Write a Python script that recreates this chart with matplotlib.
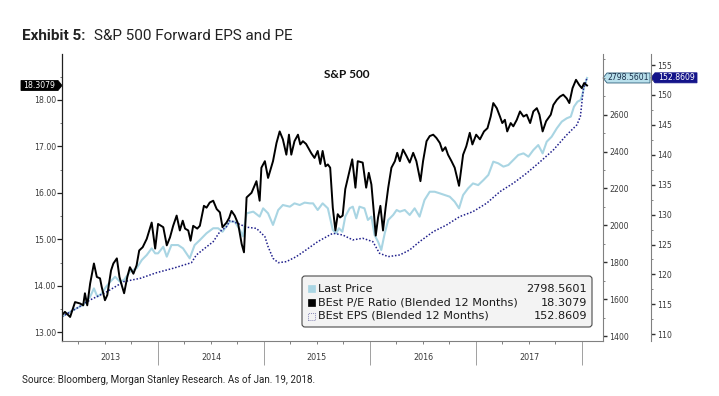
import matplotlib
matplotlib.use("Agg")
import matplotlib.pyplot as plt
import matplotlib.dates as mdates
import matplotlib.ticker as mticker
from matplotlib.patches import Polygon, FancyBboxPatch, Rectangle
from matplotlib.transforms import blended_transform_factory, IdentityTransform
import pandas as pd

# ---------------- data ----------------
pe_dates = [
    "2013-02-04", "2013-02-14", "2013-03-04", "2013-03-21", "2013-04-07", "2013-04-18", "2013-04-24",
    "2013-05-02", "2013-05-12", "2013-05-25", "2013-06-04", "2013-06-15", "2013-06-21", "2013-07-02",
    "2013-07-10", "2013-07-23", "2013-07-31", "2013-08-12", "2013-08-21", "2013-08-29", "2013-09-06",
    "2013-09-17", "2013-09-26", "2013-10-08", "2013-10-19", "2013-10-28", "2013-11-09", "2013-11-23",
    "2013-12-10", "2013-12-22", "2014-01-01", "2014-01-19", "2014-01-31", "2014-02-11", "2014-02-22",
    "2014-03-06", "2014-03-17", "2014-03-27", "2014-04-04", "2014-04-15", "2014-04-23", "2014-05-02",
    "2014-05-16", "2014-05-25", "2014-06-08", "2014-06-17", "2014-06-28", "2014-07-10", "2014-07-22",
    "2014-08-02", "2014-08-11", "2014-08-25", "2014-09-03", "2014-09-11", "2014-09-22", "2014-10-04",
    "2014-10-16", "2014-10-24", "2014-11-02", "2014-11-19", "2014-12-06", "2014-12-17", "2014-12-23",
    "2015-01-04", "2015-01-15", "2015-02-01", "2015-02-13", "2015-02-24", "2015-03-07", "2015-03-19",
    "2015-03-28", "2015-04-05", "2015-04-16", "2015-04-28", "2015-05-06", "2015-05-15", "2015-05-26",
    "2015-06-13", "2015-06-24", "2015-07-05", "2015-07-14", "2015-07-22", "2015-08-01", "2015-08-09",
    "2015-08-17", "2015-08-26", "2015-09-04", "2015-09-12", "2015-09-20", "2015-09-29", "2015-10-08",
    "2015-10-20", "2015-11-01", "2015-11-12", "2015-11-20", "2015-12-07", "2015-12-19", "2015-12-28",
    "2016-01-06", "2016-01-14", "2016-01-21", "2016-01-29", "2016-02-06", "2016-02-15", "2016-02-24",
    "2016-03-04", "2016-03-15", "2016-03-27", "2016-04-04", "2016-04-13", "2016-04-24", "2016-05-06",
    "2016-05-17", "2016-05-29", "2016-06-09", "2016-06-23", "2016-07-02", "2016-07-14", "2016-07-25",
    "2016-08-06", "2016-08-17", "2016-08-29", "2016-09-07", "2016-09-17", "2016-09-26", "2016-10-08",
    "2016-10-19", "2016-11-03", "2016-11-17", "2016-11-28", "2016-12-10", "2016-12-19", "2017-01-01",
    "2017-01-14", "2017-01-28", "2017-02-09", "2017-02-20", "2017-03-01", "2017-03-13", "2017-03-24",
    "2017-04-01", "2017-04-10", "2017-04-18", "2017-04-30", "2017-05-09", "2017-05-21", "2017-06-01",
    "2017-06-13", "2017-06-24", "2017-07-06", "2017-07-17", "2017-07-29", "2017-08-07", "2017-08-18",
    "2017-08-30", "2017-09-07", "2017-09-15", "2017-09-24", "2017-10-06", "2017-10-17", "2017-10-28",
    "2017-11-09", "2017-11-18", "2017-11-29", "2017-12-11", "2017-12-22", "2017-12-31", "2018-01-08",
    "2018-01-18",
]
pe_values = [
    13.37, 13.44, 13.33, 13.65, 13.62, 13.58, 13.84,
    13.58, 14.05, 14.48, 14.19, 14.16, 13.97, 13.69,
    13.80, 14.33, 14.48, 14.59, 14.19, 14.01, 13.84,
    14.19, 14.40, 14.26, 14.44, 14.76, 14.83, 15.01,
    15.36, 14.80, 15.33, 15.26, 14.87, 15.04, 15.29,
    15.51, 15.19, 15.40, 15.23, 15.19, 14.97, 15.29,
    15.23, 15.29, 15.72, 15.68, 15.79, 15.83, 15.65,
    15.58, 15.26, 15.36, 15.46, 15.61, 15.51, 15.33,
    14.90, 14.72, 15.90, 16.00, 16.25, 15.83, 16.54,
    16.68, 16.32, 16.68, 17.07, 17.32, 17.15, 16.82,
    17.25, 16.82, 17.11, 17.25, 17.04, 17.11, 17.05,
    16.85, 16.75, 16.90, 16.62, 16.90, 16.57, 16.61,
    16.54, 15.68, 15.19, 15.54, 15.47, 15.51, 16.08,
    16.40, 16.72, 16.11, 16.68, 16.65, 16.11, 16.43,
    16.18, 15.61, 15.08, 15.47, 15.72, 15.19, 15.68,
    16.11, 16.54, 16.68, 16.86, 16.68, 16.93, 16.79,
    16.65, 16.86, 16.68, 16.25, 16.68, 17.11, 17.22,
    17.25, 17.18, 17.07, 16.90, 16.98, 16.82, 16.68,
    16.54, 16.15, 16.82, 17.00, 17.29, 17.04, 17.25,
    17.15, 17.32, 17.39, 17.64, 17.93, 17.82, 17.64,
    17.50, 17.57, 17.32, 17.50, 17.43, 17.57, 17.75,
    17.64, 17.68, 17.50, 17.75, 17.82, 17.68, 17.32,
    17.54, 17.61, 17.68, 17.89, 18.00, 18.07, 18.11,
    18.03, 17.93, 18.25, 18.43, 18.32, 18.25, 18.36,
    18.3079,
]

price_dates = [
    "2013-02-04", "2013-03-15", "2013-04-18", "2013-05-12", "2013-05-25", "2013-06-06", "2013-06-21",
    "2013-07-06", "2013-07-20", "2013-08-06", "2013-08-23", "2013-09-06", "2013-09-26", "2013-10-19",
    "2013-11-06", "2013-11-23", "2013-12-10", "2013-12-22", "2014-01-01", "2014-01-19", "2014-01-31",
    "2014-02-16", "2014-03-11", "2014-03-28", "2014-04-20", "2014-05-07", "2014-05-25", "2014-06-17",
    "2014-07-10", "2014-07-27", "2014-08-11", "2014-09-05", "2014-09-22", "2014-10-10", "2014-10-20",
    "2014-11-02", "2014-11-25", "2014-12-17", "2014-12-29", "2015-01-15", "2015-02-01", "2015-02-19",
    "2015-03-07", "2015-03-31", "2015-04-16", "2015-05-04", "2015-05-21", "2015-06-08", "2015-06-19",
    "2015-07-05", "2015-07-22", "2015-08-09", "2015-08-26", "2015-09-07", "2015-09-16", "2015-09-28",
    "2015-10-08", "2015-10-23", "2015-11-03", "2015-11-15", "2015-11-26", "2015-12-13", "2015-12-25",
    "2016-01-06", "2016-01-17", "2016-01-29", "2016-02-09", "2016-02-21", "2016-03-04", "2016-03-21",
    "2016-04-02", "2016-04-13", "2016-04-30", "2016-05-17", "2016-06-03", "2016-06-20", "2016-07-07",
    "2016-07-25", "2016-08-11", "2016-08-29", "2016-09-15", "2016-10-02", "2016-10-19", "2016-11-03",
    "2016-11-17", "2016-12-04", "2016-12-21", "2017-01-08", "2017-01-26", "2017-02-12", "2017-03-01",
    "2017-03-18", "2017-04-05", "2017-04-22", "2017-05-09", "2017-05-26", "2017-06-13", "2017-06-30",
    "2017-07-17", "2017-08-03", "2017-08-18", "2017-09-01", "2017-09-18", "2017-10-06", "2017-10-23",
    "2017-11-09", "2017-11-23", "2017-12-04", "2017-12-16", "2017-12-27", "2018-01-03", "2018-01-08",
    "2018-01-18",
]
price_values = [
    1505, 1541, 1568, 1613, 1658, 1613, 1631,
    1667, 1694, 1721, 1694, 1704, 1749, 1767,
    1812, 1839, 1875, 1848, 1848, 1884, 1830,
    1893, 1893, 1875, 1821, 1893, 1920, 1957,
    1984, 1984, 1965, 2020, 2020, 1975, 1940,
    2065, 2074, 2047, 2092, 2065, 2002, 2083,
    2110, 2101, 2119, 2110, 2123, 2119, 2119,
    2083, 2119, 2092, 1975, 1957, 1984, 1965,
    2047, 2092, 2101, 2038, 2101, 2092, 2029,
    2047, 1947, 1911, 1866, 1957, 2029, 2056,
    2083, 2074, 2083, 2056, 2092, 2047, 2137,
    2182, 2182, 2173, 2164, 2155, 2128, 2092,
    2164, 2200, 2227, 2218, 2245, 2273, 2345,
    2336, 2318, 2327, 2354, 2381, 2390, 2372,
    2408, 2435, 2390, 2453, 2480, 2526, 2562,
    2580, 2589, 2643, 2670, 2679, 2715, 2751,
    2798.5601,
]

eps_dates = [
    "2013-02-04", "2013-03-27", "2013-05-12", "2013-07-09", "2013-09-05", "2013-11-01", "2013-12-27",
    "2014-02-22", "2014-04-26", "2014-05-13", "2014-06-11", "2014-07-10", "2014-08-02", "2014-08-25",
    "2014-09-05", "2014-09-17", "2014-11-02", "2014-12-06", "2015-01-04", "2015-01-15", "2015-02-01",
    "2015-02-19", "2015-03-19", "2015-04-22", "2015-05-26", "2015-07-05", "2015-08-26", "2015-09-29",
    "2015-11-03", "2015-12-07", "2016-01-11", "2016-02-03", "2016-03-04", "2016-04-13", "2016-05-17",
    "2016-06-20", "2016-08-06", "2016-09-21", "2016-11-05", "2016-12-21", "2017-02-06", "2017-03-24",
    "2017-05-09", "2017-06-24", "2017-08-10", "2017-09-24", "2017-11-09", "2017-12-14", "2017-12-26",
    "2017-12-31", "2018-01-05", "2018-01-18",
]
eps_values = [
    112.94, 114.35, 115.74, 117.12, 118.80, 119.36, 120.30,
    121.03, 121.97, 123.26, 124.38, 125.48, 127.15, 127.99,
    129.00, 128.83, 127.90, 127.70, 126.32, 124.65, 122.70,
    121.97, 122.14, 122.97, 124.10, 125.48, 126.88, 126.60,
    125.77, 126.05, 125.48, 123.54, 122.98, 123.26, 124.10,
    125.48, 127.15, 128.27, 129.66, 130.50, 131.90, 133.84,
    135.25, 136.92, 138.86, 140.81, 143.32, 145.00, 146.38,
    148.60, 150.85, 152.8609,
]

year_labels = ["2013", "2014", "2015", "2016", "2017"]
pe_ticks = [13, 14, 15, 16, 17, 18]
price_ticks = [1400, 1600, 1800, 2000, 2200, 2400, 2600]
eps_ticks = [110, 115, 120, 125, 130, 135, 140, 145, 150, 155]
series_names = ["Last Price", "BEst P/E Ratio (Blended 12 Months)", "BEst EPS (Blended 12 Months)"]
title_bold = "Exhibit 5:"
title_rest = "S&P 500 Forward EPS and PE"
chart_title = "S&P 500"
source_text = "Source: Bloomberg, Morgan Stanley Research. As of Jan. 19, 2018."

# ---------------- styling ----------------
W, H = 719, 396
C_PRICE = "#a9d5e3"
C_PE = "#000000"
C_EPS = "#20208c"
C_TICK = "#3a3a3a"
C_SPINE = "#808080"
TICK_SIZE = 5.6


def fx(px):
    return px / W


def fy(py):
    return 1 - py / H


fig = plt.figure(figsize=(W / 100, H / 100), dpi=100)
fig.patch.set_facecolor("white")

L, R, T, B = 62, 603, 54, 341
ax_pe = fig.add_axes([fx(L), fy(B), fx(R) - fx(L), fy(T) - fy(B)])
ax_price = ax_pe.twinx()
ax_eps = ax_pe.twinx()

ax_price.set_zorder(1)
ax_eps.set_zorder(2)
ax_pe.set_zorder(3)
for a in (ax_pe, ax_price, ax_eps):
    a.patch.set_visible(False)

pe_d = pd.to_datetime(pe_dates)
pr_d = pd.to_datetime(price_dates)
ep_d = pd.to_datetime(eps_dates)

ax_price.plot(pr_d, price_values, color=C_PRICE, lw=1.5, solid_joinstyle="round")
ax_eps.plot(ep_d, eps_values, color=C_EPS, lw=1.1, linestyle=(0, (1, 1.2)))
ax_pe.plot(pe_d, pe_values, color=C_PE, lw=1.4, solid_joinstyle="round")

xmin = pd.Timestamp("2013-02-04")
xmax = pd.Timestamp("2018-03-14")
ax_pe.set_xlim(xmin, xmax)
ax_pe.set_ylim(12.813, 18.985)
ax_price.set_ylim(1372.9, 2928.5)
ax_eps.set_ylim(108.88, 156.84)

# spines
for s in ("top", "right"):
    ax_pe.spines[s].set_visible(False)
ax_pe.spines["left"].set_color("#202020")
ax_pe.spines["left"].set_linewidth(0.9)
ax_pe.spines["bottom"].set_color(C_SPINE)
ax_pe.spines["bottom"].set_linewidth(0.8)
for a in (ax_price, ax_eps):
    for s in ("top", "left", "bottom"):
        a.spines[s].set_visible(False)
    a.spines["right"].set_color(C_SPINE)
    a.spines["right"].set_linewidth(0.8)
ax_eps.spines["right"].set_position(("outward", (651 - 603) * 0.72))

# y ticks
ax_pe.yaxis.set_major_locator(mticker.FixedLocator(pe_ticks))
ax_pe.yaxis.set_minor_locator(mticker.MultipleLocator(0.5))
ax_pe.yaxis.set_major_formatter(mticker.FormatStrFormatter("%.2f"))
ax_pe.tick_params(axis="y", which="major", direction="out", length=3.5, width=0.9,
                  color="#202020", pad=1.0, labelsize=TICK_SIZE, labelcolor=C_TICK)
ax_pe.tick_params(axis="y", which="minor", direction="out", length=1.5, width=0.6, color="#606060")

ax_price.yaxis.set_major_locator(mticker.FixedLocator(price_ticks))
ax_price.yaxis.set_minor_locator(mticker.MultipleLocator(100))
ax_price.tick_params(axis="y", which="major", direction="out", length=3, width=1.0,
                     color="#303030", pad=1.5, labelsize=TICK_SIZE, labelcolor=C_TICK)
ax_price.tick_params(axis="y", which="minor", direction="out", length=1.5, width=0.6, color="#707070")

ax_eps.yaxis.set_major_locator(mticker.FixedLocator(eps_ticks))
ax_eps.yaxis.set_minor_locator(mticker.MultipleLocator(2.5))
ax_eps.tick_params(axis="y", which="major", direction="out", length=3, width=1.0,
                   color="#303030", pad=1.5, labelsize=TICK_SIZE, labelcolor=C_TICK)
ax_eps.tick_params(axis="y", which="minor", direction="out", length=1.5, width=0.6, color="#707070")

for a in (ax_pe, ax_price, ax_eps):
    for lab in a.get_yticklabels():
        lab.set_family("DejaVu Sans")

# x ticks: year separators + quarterly minor ticks
ax_pe.xaxis.set_major_locator(mdates.YearLocator())
ax_pe.xaxis.set_minor_locator(mdates.MonthLocator(bymonth=[4, 7, 10]))
ax_pe.xaxis.set_major_formatter(mticker.NullFormatter())
ax_pe.tick_params(axis="x", which="major", direction="out", length=17, width=0.7, color="#a0a0a0")
ax_pe.tick_params(axis="x", which="minor", direction="out", length=2.2, width=0.7, color="#808080")

# year labels centred in each visible year span
lab_tr = blended_transform_factory(ax_pe.transData, ax_pe.transAxes)
y_lab = (B - 358) / (B - T)
for yl in year_labels:
    start = max(pd.Timestamp(f"{yl}-01-01"), xmin)
    end = pd.Timestamp(f"{int(yl) + 1}-01-01")
    mid = start + (end - start) / 2
    ax_pe.text(mdates.date2num(mid), y_lab, yl, transform=lab_tr, ha="center", va="center",
               family="DejaVu Sans", size=5.8, color=C_TICK)

# chart title inside the plot
fig.text(fx(347), fy(75), chart_title, ha="center", va="center",
         family="Lato", fontweight="bold", size=8.5, color="#111111")

# exhibit title
renderer = fig.canvas.get_renderer()
t1 = fig.text(fx(22), fy(40), title_bold, ha="left", va="baseline",
              family="Roboto", fontweight="bold", size=11, color="#222222")
bb = t1.get_window_extent(renderer)
fig.text((bb.x1 + 8) / W, fy(40), title_rest, ha="left", va="baseline",
         family="Roboto", size=11, color="#222222")

# source
fig.text(fx(22), fy(380), source_text, ha="left", va="center",
         family="Roboto", size=7.1, color="#222222")


# ---------------- value tags on the axes ----------------
def disp_y(ax, val):
    return ax.transData.transform((0, val))[1]


def tag(x_tip, x_end, ypix, fc, ec, txt, tc):
    h = 5.0
    d = 4.0
    if x_end > x_tip:  # points left
        verts = [(x_tip, ypix), (x_tip + d, ypix + h), (x_end, ypix + h), (x_end, ypix - h), (x_tip + d, ypix - h)]
        cx = (x_tip + d + x_end) / 2
    else:  # points right
        verts = [(x_tip, ypix), (x_tip - d, ypix + h), (x_end, ypix + h), (x_end, ypix - h), (x_tip - d, ypix - h)]
        cx = (x_tip - d + x_end) / 2
    poly = Polygon(verts, closed=True, facecolor=fc, edgecolor=ec, lw=0.6, transform=IdentityTransform())
    fig.add_artist(poly)
    fig.text(cx / W, ypix / H, txt, ha="center", va="center", family="DejaVu Sans", size=5.6, color=tc)


fig.canvas.draw()
tag(62, 21, disp_y(ax_pe, pe_values[-1]), "#000000", "#000000", f"{pe_values[-1]:.4f}", "white")
tag(603, 650, disp_y(ax_price, price_values[-1]), "#b9e0ec", "#2f5f7a", f"{price_values[-1]:.4f}", "#1b2f4a")
tag(651, 697, disp_y(ax_eps, eps_values[-1]), "#14148a", "#14148a", f"{eps_values[-1]:.4f}", "white")

# ---------------- legend box ----------------
lx0, lx1, ly0, ly1 = 302, 592, 276, 327
box = FancyBboxPatch((lx0, H - ly1), lx1 - lx0, ly1 - ly0,
                     boxstyle="round,pad=0,rounding_size=3",
                     facecolor="#f3f3f3", edgecolor="#4a4a4a", lw=0.8,
                     transform=IdentityTransform())
fig.add_artist(box)
rows_y = [288.5, 302.5, 316.0]
last_vals = [f"{price_values[-1]:.4f}", f"{pe_values[-1]:.4f}", f"{eps_values[-1]:.4f}"]
marker_styles = [
    dict(facecolor=C_PRICE, edgecolor=C_PRICE, lw=0.5, linestyle="-"),
    dict(facecolor="#000000", edgecolor="#000000", lw=0.5, linestyle="-"),
    dict(facecolor="none", edgecolor="#8a8ab8", lw=0.7, linestyle=(0, (1, 1))),
]
for ry, name, val, ms in zip(rows_y, series_names, last_vals, marker_styles):
    sq = Rectangle((308, H - ry - 3.5), 7, 7, transform=IdentityTransform(), **ms)
    fig.add_artist(sq)
    fig.text(fx(318), fy(ry), name, ha="left", va="center", family="DejaVu Sans", size=8.1, color="#1a1a1a")
    fig.text(fx(587), fy(ry), val, ha="right", va="center", family="DejaVu Sans", size=8.1, color="#1a1a1a")

fig.savefig("out.png", dpi=100, facecolor="white")
